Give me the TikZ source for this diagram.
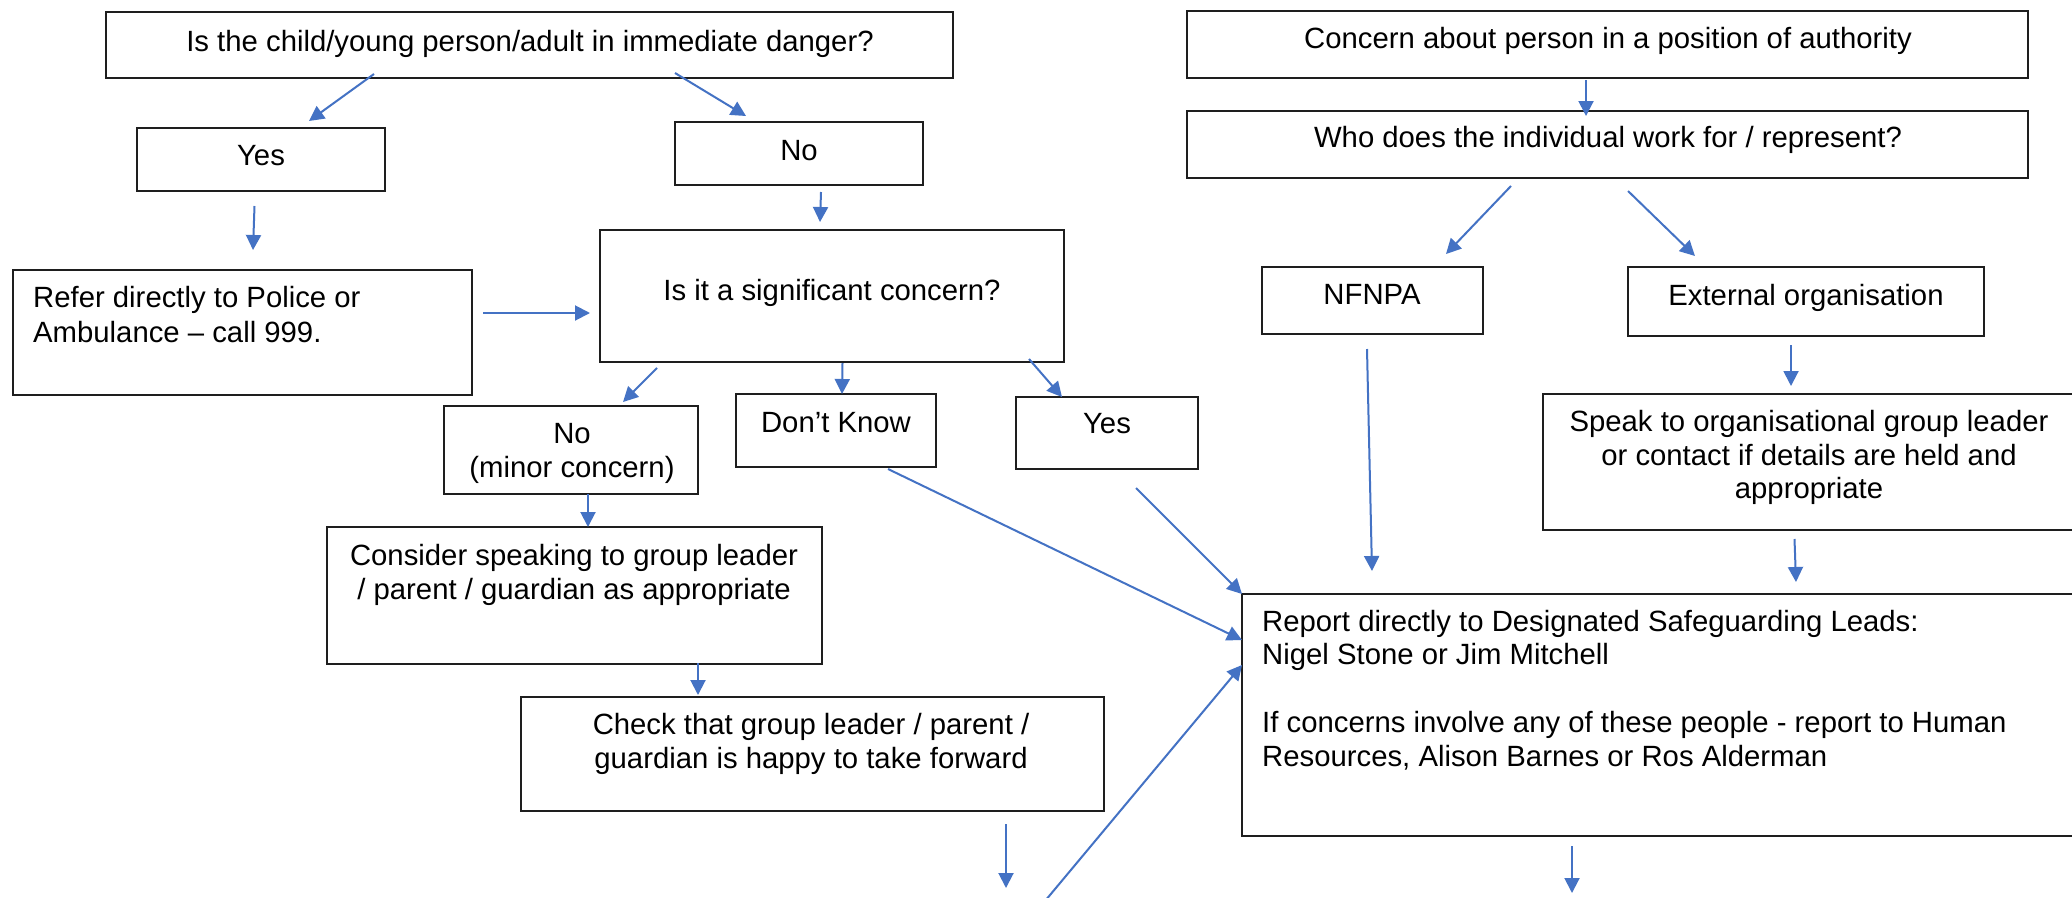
\documentclass[tikz,border=0pt]{standalone}
\usepackage{fontspec}
\setmainfont{Liberation Sans}
\usetikzlibrary{arrows.meta,calc}
\definecolor{arrowblue}{RGB}{68,114,196}
\definecolor{boxline}{RGB}{30,30,30}
\newcommand\pbox[5]{\node[box,minimum width={(#4-#2)*1pt},minimum height={(#5-#3)*1pt}] (#1) at ({(#2+#4)/2},{(#3+#5)/2}) {};}
\newcommand\ctl[4]{\node[txt] (#1) at (#2,#3) {#4};}
\newcommand\ltl[4]{\node[txt,anchor=base west] (#1) at (#2,#3) {#4};}
\begin{document}
\begin{tikzpicture}[x=1pt,y=-1pt,
  box/.style={draw=boxline, line width=2pt, inner sep=0pt, outer sep=0pt},
  txt/.style={inner sep=0pt, anchor=base, font=\fontsize{29.3}{34}\selectfont},
  conn/.style={draw=arrowblue, line width=2pt, -{Triangle[length=15pt,width=15pt]}},
]
\fill[white] (0,0) rectangle (2072,897);
\clip (0,0) rectangle (2072,897);

% boxes
\pbox{q1}{106}{12}{953}{78}
\pbox{yes1}{137}{128}{385}{191}
\pbox{no1}{675}{122}{923}{185}
\pbox{refer}{13}{270}{472}{395}
\pbox{sig}{600}{230}{1064}{362}
\pbox{nominor}{444}{406}{698}{494}
\pbox{dk}{736}{394}{936}{467}
\pbox{yes2}{1016}{397}{1198}{469}
\pbox{consider}{327}{527}{822}{664}
\pbox{check}{521}{697}{1104}{811}
\pbox{auth}{1187}{11}{2028}{78}
\pbox{who}{1187}{111}{2028}{178}
\pbox{nfnpa}{1262}{267}{1483}{334}
\pbox{ext}{1628}{267}{1984}{336}
\pbox{speak}{1543}{394}{2078}{530}
\pbox{report}{1242}{594}{2082}{836}

% texts
\ctl{q1t}{530}{51}{Is the child/young person/adult in immediate danger?}
\ctl{yes1t}{261}{165}{Yes}
\ctl{no1t}{799}{160}{No}
\ltl{refer1}{33}{307}{Refer directly to Police or}
\ltl{refer2}{33}{342}{Ambulance – call 999.}
\ctl{sigt}{832}{300}{Is it a significant concern?}
\ctl{nominor1}{572}{443}{No}
\ctl{nominor2}{572}{477}{(minor concern)}
\ctl{dkt}{836}{432}{Don’t Know}
\ctl{yes2t}{1107}{433}{Yes}
\ctl{cons1}{574}{565}{Consider speaking to group leader}
\ctl{cons2}{574}{599}{/ parent / guardian as appropriate}
\ctl{check1}{811}{734}{Check that group leader / parent /}
\ctl{check2}{811}{768}{guardian is happy to take forward}
\ctl{autht}{1608}{48}{Concern about person in a position of authority}
\ctl{whot}{1608}{147}{Who does the individual work for / represent?}
\ctl{nfnpat}{1372}{304}{NFNPA}
\ctl{extt}{1806}{305}{External organisation}
\ctl{speak1}{1809}{431}{Speak to organisational group leader}
\ctl{speak2}{1809}{465}{or contact if details are held and}
\ctl{speak3}{1809}{498}{appropriate}
\ltl{rep1}{1262}{631}{Report directly to Designated Safeguarding Leads:}
\ltl{rep2}{1262}{664}{Nigel Stone or Jim Mitchell}
\ltl{rep3}{1262}{732}{If concerns involve any of these people - report to Human}
\ltl{rep4}{1262}{766}{Resources, Alison Barnes or Ros Alderman}

% free ends
\coordinate (checkout) at (1006,888);
\coordinate (loopin) at (1040,907);
\coordinate (reportout) at (1572,893);

% connectors
\draw[conn] ($(q1.south west)+(268,-4)$) -- ($(yes1.north west)+(172,-7)$);
\draw[conn] ($(q1.south west)+(569,-5)$) -- ($(no1.north west)+(71,-6)$);
\draw[conn] ($(yes1.south west)+(117.5,15)$) -- ($(refer.north west)+(240,-20)$);
\draw[conn] ($(no1.south west)+(146,7)$) -- ($(sig.north west)+(220,-8)$);
\draw[conn] ($(refer.north east)+(11,43)$) -- ($(sig.north west)+(-10,83)$);
\draw[conn] ($(sig.south west)+(57,6)$) -- ($(nominor.north west)+(179,-4)$);
\draw[conn] ($(sig.south west)+(242.5,1)$) -- ($(dk.north west)+(106,0)$);
\draw[conn] ($(sig.south west)+(429,-3)$) -- ($(yes2.north west)+(46,0)$);
\draw[conn] ($(nominor.south west)+(144,0)$) -- ($(consider.north west)+(261,0)$);
\draw[conn] ($(consider.south west)+(371,-1)$) -- ($(check.north west)+(177,-2)$);
\draw[conn] ($(check.south west)+(485,13)$) -- (checkout);
\draw[conn] ($(dk.south west)+(152,2)$) -- ($(report.north west)+(0,46)$);
\draw[conn] ($(yes2.south west)+(120,19)$) -- (report.north west);
\draw[conn] (loopin) -- ($(report.north west)+(0,71)$);
\draw[conn] ($(auth.south west)+(399,2)$) -- ($(who.north west)+(399,5)$);
\draw[conn] ($(who.south west)+(324,8)$) -- ($(nfnpa.north west)+(184,-13)$);
\draw[conn] ($(who.south west)+(441,13)$) -- ($(ext.north west)+(67,-11)$);
\draw[conn] ($(ext.south west)+(163,9)$) -- ($(speak.north west)+(248,-8)$);
\draw[conn] ($(nfnpa.south west)+(105,15)$) -- ($(report.north west)+(130,-23)$);
\draw[conn] ($(speak.south west)+(251.5,9)$) -- ($(report.north west)+(554,-12)$);
\draw[conn] ($(report.south west)+(330,10)$) -- (reportout);
\end{tikzpicture}
\end{document}
